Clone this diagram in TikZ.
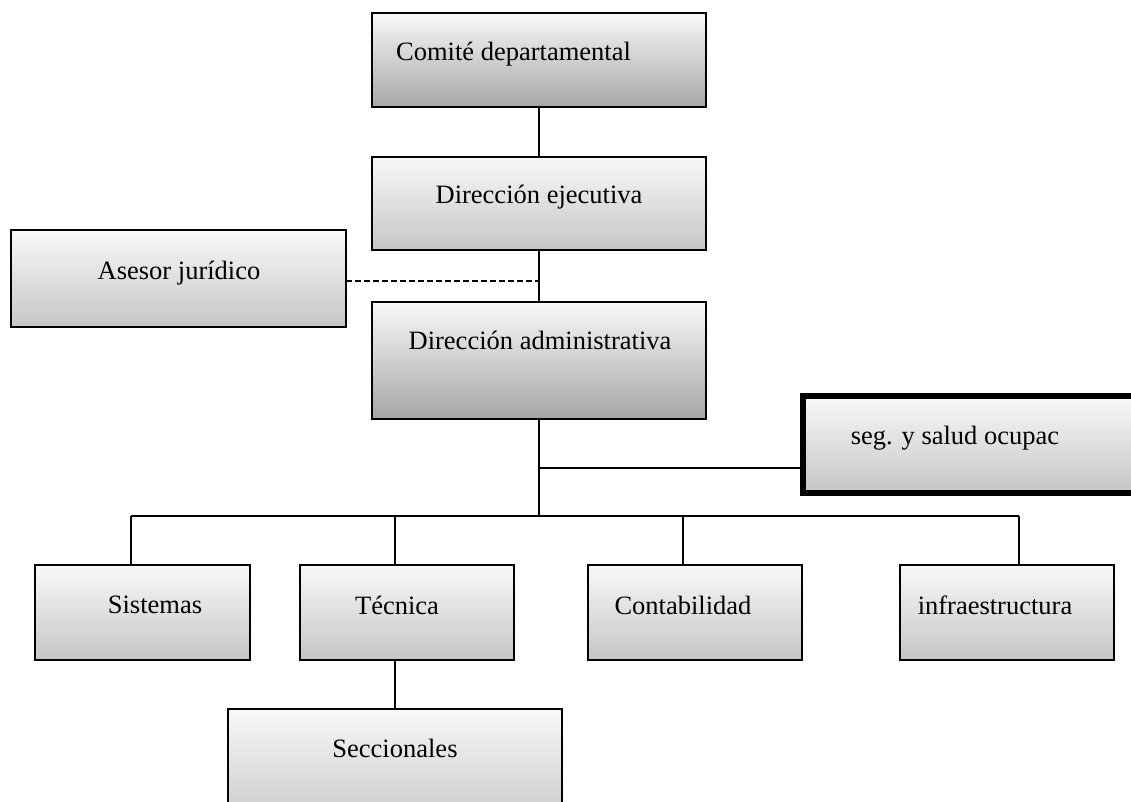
\documentclass[tikz,border=0pt]{standalone}
\usepackage{fontspec}
\setmainfont{Liberation Serif}
\begin{document}
\begin{tikzpicture}[x=1pt,y=-1pt,
  box/.style={draw=black,line width=2pt,top color=gray!5,bottom color=gray!45,inner sep=0pt,outer sep=0pt},
  darkbox/.style={box,bottom color=gray!70},
  thickbox/.style={box,line width=6pt},
  txt/.style={font=\fontsize{26.5}{30}\selectfont,inner sep=0pt},
  conn/.style={line width=2pt},
  dashconn/.style={line width=2pt,dash pattern=on 6pt off 3pt}]
\useasboundingbox (0,0) rectangle (1131,802);
\begin{scope}
\clip (0,0) rectangle (1131,802);
\node[darkbox,minimum width=334pt,minimum height=94pt] (b1) at (539,60) {};
\node[box,minimum width=334pt,minimum height=93pt] (b2) at (539,203.5) {};
\node[box,minimum width=335pt,minimum height=97pt] (b3) at (178.5,278.5) {};
\node[darkbox,minimum width=334pt,minimum height=117pt] (b4) at (539,360.5) {};
\node[thickbox,minimum width=347pt,minimum height=97pt] (b5) at (976.5,444.5) {};
\node[box,minimum width=215pt,minimum height=95pt] (b6) at (142.5,612.5) {};
\node[box,minimum width=214pt,minimum height=95pt] (b7) at (407,612.5) {};
\node[box,minimum width=214pt,minimum height=95pt] (b8) at (695,612.5) {};
\node[box,minimum width=214pt,minimum height=95pt] (b9) at (1007,612.5) {};
\node[box,minimum width=334pt,minimum height=121pt] (b10) at (395,769.5) {};

\node[txt,anchor=west] (t1) at (396,54) {Comité departamental};
\node[txt] (t2) at (539,197) {Dirección ejecutiva};
\node[txt] (t3) at (179,273) {Asesor jurídico};
\node[txt] (t4) at (540,340) {Dirección administrativa};
\node[txt] (t5) at (955,438) {seg. y salud ocupac};
\node[txt] (t6) at (155,605) {Sistemas};
\node[txt] (t7) at (397,605) {Técnica};
\node[txt] (t8) at (683,605) {Contabilidad};
\node[txt] (t9) at (995,605) {infraestructura};
\node[txt] (t10) at (395,748) {Seccionales};

\coordinate (j1) at (539,281);
\coordinate (j2) at (539,516);
\coordinate (j3) at (539,468);
\coordinate (d1) at (131,516);
\coordinate (d2) at (395,516);
\coordinate (d3) at (683,516);
\coordinate (d4) at (1019,516);

\draw[conn] (b1.south) -- (b2.north);
\draw[conn] (b2.south) -- (b4.north);
\draw[dashconn] (b3.east |- j1) -- (j1);
\draw[conn] (b4.south) -- (j2);
\draw[conn] (j3) -- (b5.west |- j3);
\draw[conn] (d1) -- (d4);
\draw[conn] (d1) -- (d1 |- b6.north);
\draw[conn] (d2) -- (d2 |- b7.north);
\draw[conn] (d3) -- (d3 |- b8.north);
\draw[conn] (d4) -- (d4 |- b9.north);
\draw[conn] (b7.south -| d2) -- (d2 |- b10.north);
\end{scope}
\end{tikzpicture}
\end{document}
